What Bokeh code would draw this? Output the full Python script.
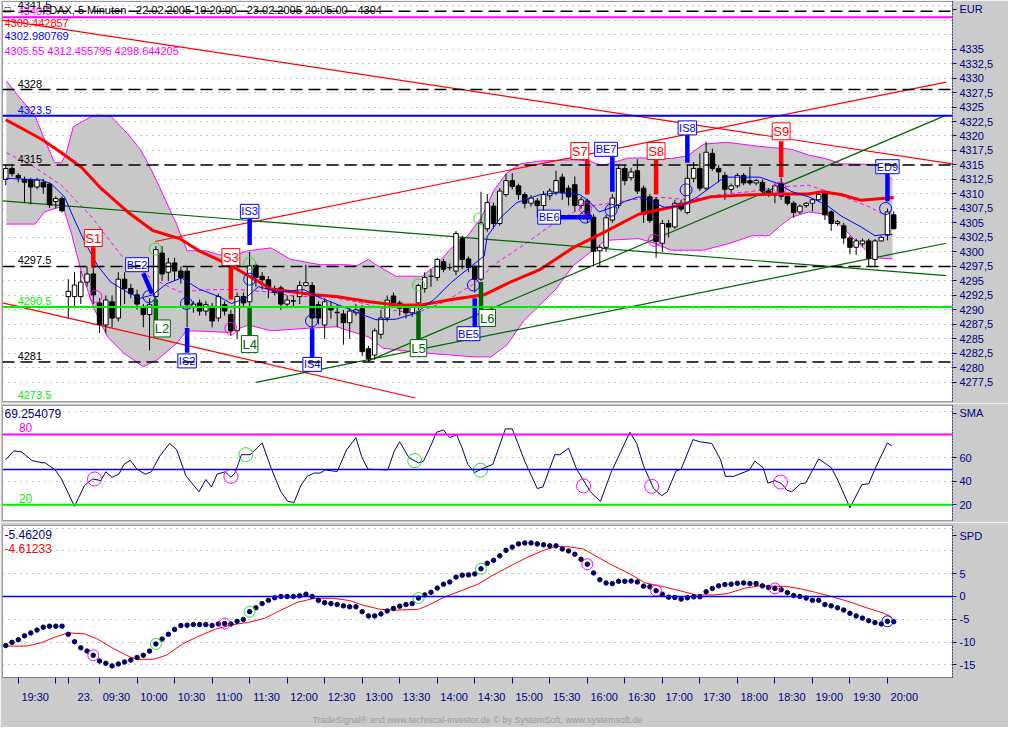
from bokeh.plotting import figure
from bokeh.models import Range1d, FixedTicker, Label, Span
from bokeh.layouts import column
from bokeh.embed import file_html
from bokeh.resources import INLINE
from bokeh.core.properties import value

FONT = "Liberation Sans"
NAVY = "#000080"
DOTS = "#000060"
GRAY_BG = "#cbcbcb"
BAND_GRAY = "#c8c8c8"
MAGENTA = "#ff00ff"
RED = "#ff0000"
BLUE = "#0000ff"
GREEN = "#00ee00"
DKGREEN = "#006400"
LTGREEN = "#2edc2e"

# ---------------- price data (5 minute bars, index 0 = 22.02. 19:20) ----------------
opens = [4312.5, 4314.4, 4313.2, 4312.5, 4312.4, 4311.2, 4312.0, 4311.7, 4308.7, 4309.2,
         4292.3, 4292.3, 4292.3, 4294.8, 4296.2, 4291.2, 4287.4, 4291.4, 4288.6, 4295.3,
         4293.7, 4292.6, 4290.3, 4289.2, 4292.3, 4299.8, 4296.5, 4298.1, 4296.7, 4296.7,
         4290.5, 4291.2, 4289.8, 4290.6, 4288.6, 4290.9, 4289.2, 4286.4, 4292.3, 4291.4,
         4297.7, 4295.8, 4295.2, 4293.7, 4293.8, 4291.0, 4291.5, 4292.3, 4294.2, 4294.2,
         4290.9, 4287.4, 4290.6, 4289.5, 4289.3, 4287.8, 4289.5, 4290.2, 4283.3, 4282.2,
         4285.8, 4288.6, 4292.4, 4291.2, 4290.4, 4289.5, 4291.2, 4293.7, 4295.8, 4295.6,
         4298.3, 4297.3, 4296.7, 4302.3, 4298.8, 4297.3, 4295.3, 4304.0, 4307.9, 4304.9,
         4309.9, 4312.3, 4311.4, 4309.9, 4308.4, 4308.8, 4308.0, 4309.7, 4310.3, 4312.9,
         4311.0, 4311.6, 4308.0, 4308.8, 4306.0, 4300.2, 4300.8, 4305.5, 4308.0, 4314.4,
         4312.8, 4314.0, 4311.0, 4309.5, 4309.0, 4301.5, 4304.9, 4304.3, 4308.4, 4306.8,
         4312.7, 4314.4, 4311.0, 4317.0, 4314.4, 4313.2, 4310.8, 4311.4, 4313.2, 4312.3,
         4311.9, 4312.0, 4310.5, 4309.8, 4311.9, 4309.6, 4308.4, 4306.9, 4308.0, 4308.4,
         4309.0, 4310.3, 4306.9, 4304.9, 4304.5, 4302.4, 4300.8, 4301.4, 4301.9, 4298.7,
         4301.9, 4302.9, 4306.4]
highs = [4315.0, 4315.0, 4313.6, 4313.0, 4312.8, 4312.8, 4312.6, 4312.0, 4309.6, 4309.6,
         4295.3, 4296.5, 4296.7, 4297.5, 4298.0, 4292.0, 4292.5, 4292.5, 4296.5, 4296.5,
         4294.5, 4293.5, 4291.0, 4292.0, 4301.0, 4301.0, 4299.0, 4299.0, 4297.5, 4297.5,
         4291.5, 4291.8, 4291.5, 4291.2, 4292.8, 4291.5, 4290.0, 4293.0, 4293.0, 4300.0,
         4298.0, 4296.5, 4295.8, 4294.2, 4294.2, 4292.5, 4292.5, 4295.0, 4297.8, 4294.8,
         4291.5, 4292.0, 4291.4, 4291.0, 4290.0, 4290.5, 4291.0, 4290.8, 4283.8, 4286.8,
         4290.0, 4292.5, 4293.0, 4291.6, 4290.8, 4291.0, 4294.5, 4296.5, 4297.0, 4299.0,
         4298.8, 4298.0, 4303.6, 4302.8, 4299.2, 4297.8, 4310.4, 4310.0, 4308.5, 4311.0,
         4313.5, 4313.6, 4311.8, 4310.3, 4309.8, 4309.3, 4310.5, 4311.0, 4314.0, 4313.5,
         4311.5, 4313.0, 4309.5, 4309.2, 4306.5, 4301.2, 4306.4, 4310.0, 4315.0, 4315.0,
         4314.5, 4316.0, 4311.5, 4310.0, 4309.5, 4305.5, 4305.5, 4309.0, 4309.0, 4315.0,
         4315.5, 4317.0, 4319.0, 4317.8, 4315.0, 4313.8, 4311.8, 4313.6, 4313.6, 4314.7,
         4312.6, 4312.5, 4311.0, 4311.8, 4312.8, 4310.0, 4308.8, 4308.2, 4308.6, 4309.3,
         4310.2, 4310.6, 4307.2, 4305.5, 4305.0, 4302.8, 4302.3, 4302.3, 4302.3, 4302.2,
         4302.8, 4307.5, 4307.0]
lows = [4311.5, 4313.0, 4312.0, 4308.5, 4308.2, 4310.8, 4310.0, 4307.6, 4307.5, 4306.8,
        4288.6, 4290.3, 4291.0, 4294.0, 4291.0, 4286.0, 4286.0, 4287.0, 4288.0, 4291.0,
        4292.0, 4290.0, 4287.0, 4283.0, 4290.0, 4295.0, 4295.0, 4295.0, 4294.5, 4287.0,
        4289.5, 4289.0, 4289.0, 4287.0, 4288.0, 4289.0, 4285.5, 4285.0, 4290.5, 4290.0,
        4294.0, 4293.5, 4292.0, 4292.5, 4290.0, 4290.3, 4290.5, 4291.0, 4294.0, 4285.8,
        4287.5, 4285.0, 4288.5, 4287.0, 4284.0, 4285.0, 4289.0, 4282.0, 4281.0, 4281.4,
        4285.0, 4288.0, 4290.5, 4289.0, 4288.5, 4288.8, 4290.0, 4293.0, 4294.0, 4295.0,
        4296.5, 4296.8, 4296.0, 4297.0, 4296.5, 4293.0, 4295.0, 4303.5, 4304.0, 4304.5,
        4309.5, 4310.8, 4309.0, 4307.5, 4307.8, 4306.0, 4306.5, 4309.0, 4309.8, 4309.0,
        4308.0, 4307.0, 4307.5, 4305.0, 4297.5, 4297.5, 4300.0, 4305.0, 4307.5, 4311.5,
        4312.3, 4310.0, 4305.0, 4305.0, 4299.0, 4300.0, 4302.5, 4304.0, 4307.0, 4306.5,
        4312.0, 4310.5, 4310.5, 4314.0, 4312.0, 4309.0, 4310.2, 4311.0, 4311.5, 4311.5,
        4311.5, 4310.0, 4309.5, 4308.4, 4309.0, 4308.0, 4305.9, 4306.5, 4307.6, 4307.0,
        4308.8, 4305.5, 4303.6, 4304.5, 4301.4, 4299.6, 4299.5, 4301.0, 4297.5, 4297.5,
        4301.8, 4302.0, 4303.9]
closes = [4314.4, 4313.5, 4312.8, 4312.0, 4311.2, 4312.4, 4311.2, 4308.1, 4309.2, 4307.1,
          4293.2, 4294.3, 4294.8, 4296.2, 4292.6, 4287.5, 4291.7, 4288.6, 4295.3, 4293.7,
          4292.8, 4291.0, 4289.2, 4290.9, 4300.4, 4296.2, 4298.1, 4296.7, 4295.5, 4290.9,
          4291.0, 4289.8, 4290.9, 4288.1, 4292.3, 4289.8, 4286.4, 4292.3, 4291.2, 4297.6,
          4295.6, 4295.2, 4293.7, 4293.0, 4291.0, 4291.7, 4291.6, 4294.2, 4294.7, 4288.6,
          4288.6, 4291.4, 4290.0, 4289.6, 4287.8, 4289.8, 4290.0, 4282.8, 4281.6, 4286.4,
          4288.6, 4291.7, 4291.2, 4290.3, 4289.5, 4290.6, 4294.2, 4295.6, 4295.8, 4298.7,
          4297.0, 4297.3, 4303.2, 4298.7, 4297.3, 4295.3, 4305.0, 4308.5, 4304.9, 4310.5,
          4312.3, 4311.3, 4309.9, 4308.4, 4309.3, 4308.0, 4309.9, 4310.5, 4312.3, 4310.2,
          4309.5, 4308.0, 4309.0, 4306.3, 4300.1, 4300.8, 4305.9, 4309.3, 4314.4, 4312.3,
          4313.8, 4310.5, 4306.5, 4305.4, 4301.8, 4304.9, 4304.3, 4308.4, 4307.4, 4312.7,
          4314.4, 4311.0, 4317.2, 4314.4, 4313.8, 4310.8, 4311.4, 4313.2, 4311.9, 4311.9,
          4312.3, 4310.5, 4309.8, 4311.4, 4309.6, 4308.4, 4306.8, 4307.9, 4308.4, 4309.0,
          4309.9, 4306.4, 4304.9, 4305.2, 4302.4, 4300.8, 4301.9, 4301.9, 4298.9, 4301.9,
          4302.5, 4306.9, 4304.0]

# x-axis: tick bars and labels
tick_bars = [2, 8, 10, 15, 21, 27, 33, 39, 45, 51, 57, 63, 69, 75, 81, 87, 93, 99, 105,
             111, 117, 123, 129, 135, 141]
tick_labels = ["19:30", "", "23.", "09:30", "10:00", "10:30", "11:00", "11:30", "12:00",
               "12:30", "13:00", "13:30", "14:00", "14:30", "15:00", "15:30", "16:00",
               "16:30", "17:00", "17:30", "18:00", "18:30", "19:00", "19:30", "20:00"]

# right price axis (last entry is the panel header)
price_ticks = [4277.5, 4280.0, 4282.5, 4285.0, 4287.5, 4290.0, 4292.5, 4295.0, 4297.5,
               4300.0, 4302.5, 4305.0, 4307.5, 4310.0, 4312.5, 4315.0, 4317.5, 4320.0,
               4322.5, 4325.0, 4327.5, 4330.0, 4332.5, 4335.0, 4341.9]
price_tick_labels = ["4277,5", "4280", "4282,5", "4285", "4287,5", "4290", "4292,5", "4295",
                     "4297,5", "4300", "4302,5", "4305", "4307,5", "4310", "4312,5", "4315",
                     "4317,5", "4320", "4322,5", "4325", "4327,5", "4330", "4332,5", "4335",
                     "     EUR"]
price_grid = [4277.5, 4280.0, 4282.5, 4285.0, 4287.5, 4290.0, 4292.5, 4295.0, 4297.5,
              4300.0, 4302.5, 4305.0, 4307.5, 4310.0, 4312.5, 4315.0, 4317.5, 4320.0,
              4322.5, 4325.0, 4327.5, 4330.0, 4332.5, 4335.0, 4337.5, 4340.0, 4342.5]

# moving averages (read at bar positions)
ma_red_x = [0, 2.6, 5.8, 8.9, 12.1, 15.2, 19.5, 23.5, 27.8, 30.9, 36.1, 38.8, 42.4, 49.3,
            52.9, 58.1, 62.8, 66.6, 71.3, 76.5, 80.1, 85.5, 90.7, 95.9, 101.2, 106.4, 112.7,
            118.0, 123.2, 128.4, 130.5, 133.6, 136.8, 142.0]
ma_red_y = [4322.8, 4321.3, 4319.4, 4317.1, 4314.6, 4311.0, 4306.9, 4303.7, 4302.3, 4300.2,
            4297.6, 4295.9, 4293.6, 4292.6, 4292.3, 4291.4, 4290.8, 4290.9, 4291.8, 4292.6,
            4294.5, 4297.0, 4300.7, 4303.5, 4306.5, 4307.7, 4309.5, 4309.8, 4310.0, 4310.0,
            4310.4, 4309.9, 4308.9, 4309.4]
ma_blue_x = [0, 5.8, 7.3, 9.4, 10.8, 12.5, 14.7, 16.8, 19.4, 21.5, 23.5, 25.7, 28.1, 30.9,
             34.1, 36.1, 38.3, 40.4, 43.5, 47.7, 49.8, 52.9, 56.1, 59.2, 62.4, 65.5, 68.7,
             71.3, 73.8, 76.5, 77.0, 79.2, 81.7, 85.5, 88.6, 91.8, 93.3, 94.9, 97.0, 99.0,
             101.2, 103.3, 105.3, 108.0, 110.6, 114.3, 115.4, 120.6, 123.2, 125.7, 128.4,
             131.1, 133.6, 136.8, 139.0, 140.5, 141.8]
ma_blue_y = [4312.7, 4312.4, 4311.7, 4309.5, 4306.0, 4302.0, 4297.6, 4294.8, 4293.1, 4292.0,
             4292.6, 4294.5, 4295.5, 4293.6, 4292.3, 4291.1, 4292.0, 4294.0, 4293.1, 4293.5,
             4292.3, 4291.0, 4289.6, 4288.3, 4288.4, 4289.4, 4292.0, 4294.8, 4297.0, 4299.3,
             4302.7, 4306.0, 4308.5, 4309.9, 4310.2, 4309.9, 4308.7, 4306.9, 4307.7, 4308.7,
             4309.5, 4308.7, 4307.7, 4307.9, 4309.5, 4312.4, 4312.9, 4312.9, 4311.9, 4310.4,
             4309.5, 4308.2, 4306.2, 4304.3, 4302.8, 4303.0, 4303.0]

# bands
band_up_x = [0.1, 2.6, 4.7, 6.2, 7.8, 8.9, 9.7, 10.8, 12.1, 13.6, 14.7, 16.8, 19.5, 21.5,
             22.8, 24.2, 27.3, 29.0, 32.0, 34.1, 36.1, 38.8, 42.4, 45.6, 50.3, 54.5, 56.1,
             58.0, 59.2, 62.4, 66.6, 68.7, 71.3, 73.8, 76.1, 78.1, 80.1, 82.3, 85.5, 90.7,
             93.3, 95.4, 97.0, 99.6, 103.7, 106.4, 109.1, 111.6, 115.4, 120.6, 125.7, 128.4,
             131.1, 133.6, 139.0, 141.0, 141.8]
band_up_y = [4329.5, 4326.1, 4323.4, 4319.4, 4315.4, 4315.4, 4317.1, 4321.6, 4322.4, 4323.3,
             4323.6, 4323.4, 4320.4, 4317.7, 4315.2, 4312.1, 4304.8, 4300.2, 4300.2, 4299.5,
             4299.3, 4300.2, 4300.7, 4298.7, 4297.8, 4297.8, 4297.6, 4298.7, 4297.8, 4295.8,
             4295.8, 4297.6, 4300.7, 4302.7, 4306.0, 4310.7, 4313.6, 4315.2, 4315.7, 4315.9,
             4315.7, 4314.9, 4315.4, 4316.2, 4316.2, 4316.1, 4316.6, 4318.6, 4318.9, 4318.2,
             4317.7, 4316.7, 4316.1, 4315.2, 4315.1, 4313.2, 4312.5]
band_lo_x = [0.1, 4.7, 6.2, 8.4, 9.4, 10.5, 12.1, 14.1, 16.3, 18.8, 22.0, 24.2, 27.3, 28.9,
             32.0, 35.6, 38.8, 42.4, 47.7, 52.9, 58.1, 60.3, 62.4, 66.6, 71.3, 75.0, 77.6,
             80.1, 82.8, 88.0, 90.7, 93.3, 95.9, 101.2, 103.7, 106.4, 111.6, 115.8, 119.4,
             122.1, 124.2, 125.7, 128.4, 131.1, 133.6, 136.3, 139.0, 141.8]
band_lo_y = [4304.8, 4304.8, 4306.9, 4307.7, 4307.0, 4303.2, 4296.5, 4290.3, 4285.3, 4282.6,
             4280.2, 4281.4, 4284.2, 4286.4, 4286.3, 4286.1, 4287.4, 4286.4, 4286.8, 4287.1,
             4285.3, 4283.4, 4283.1, 4282.6, 4282.2, 4281.9, 4281.9, 4283.9, 4288.1, 4293.6,
             4297.6, 4299.8, 4302.0, 4302.3, 4301.5, 4300.3, 4300.3, 4301.5, 4302.8, 4302.8,
             4304.8, 4306.0, 4306.9, 4306.5, 4304.5, 4301.5, 4299.0, 4298.8]
band_mid_x = [0.1, 4.2, 8.9, 13.6, 18.4, 23.1, 27.8, 32.5, 37.2, 41.9, 46.6, 51.4, 56.1,
              60.8, 65.5, 70.2, 74.9, 78.1, 82.8, 87.5, 92.2, 95.4, 100.1, 104.8, 109.5,
              114.3, 119.0, 123.7, 128.4, 133.1, 137.8, 141.8]
band_mid_y = [4317.1, 4314.9, 4311.5, 4306.2, 4299.5, 4295.6, 4293.1, 4293.5, 4293.5, 4293.1,
              4292.3, 4292.3, 4291.4, 4290.1, 4289.4, 4291.4, 4294.5, 4297.8, 4301.2, 4304.8,
              4307.7, 4308.2, 4309.0, 4309.4, 4309.0, 4309.9, 4310.4, 4311.2, 4311.5, 4309.9,
              4307.9, 4305.7]

# trend lines (bar, price) start / end
trend_x0 = [-0.52, -0.52, 23.9, -0.52, 58.0, 40.0]
trend_y0 = [4340.0, 4291.2, 4301.8, 4308.8, 4281.2, 4277.5]
trend_x1 = [151.4, 65.5, 150.4, 150.4, 150.4, 150.4]
trend_y1 = [4315.2, 4274.8, 4329.3, 4295.9, 4323.6, 4301.5]
trend_col = [RED, RED, RED, DKGREEN, DKGREEN, DKGREEN]

# horizontal levels
levels = [4341.5, 4340.5, 4328.0, 4323.5, 4315.0, 4297.5, 4290.5, 4281.0, 4273.5]
level_text = ["4341.5", "4340.5", "4328", "4323.5", "4315", "4297.5", "4290.5", "4281", "4273.5"]
level_color = ["black", MAGENTA, "black", BLUE, "black", "black", GREEN, "black", GREEN]
level_dash = ["12 6", "solid", "12 6", "solid", "12 6", "12 6", "solid", "12 6", "solid"]
level_width = [1.5, 2, 1.5, 2, 1.5, 1.5, 2, 1.5, 2]

# trading signals
sig_name = ["S1", "BE2", "L2", "IS2", "S3", "L4", "IS3", "IS4", "L5", "BE5", "L6", "BE6",
            "S7", "BE7", "S8", "IS8", "S9", "ED9"]
sig_x0 = [14, 22, 24, 29, 36, 39, 39, 49, 66, 75, 76, 88.6, 93, 97, 104, 109, 124, 141]
sig_y0 = [4300.8, 4296.3, 4291.8, 4286.9, 4297.6, 4290.6, 4305.7, 4286.8, 4289.8, 4292.0,
          4294.8, 4306.0, 4315.9, 4316.6, 4315.9, 4320.3, 4319.1, 4314.1]
sig_x1 = [14, 23.4, 24, 29, 36, 39, 39, 49, 66, 75, 76, 93.7, 93, 97, 104, 109, 124, 141]
sig_y1 = [4297.3, 4292.8, 4288.1, 4282.6, 4291.8, 4285.3, 4301.2, 4281.7, 4284.4, 4286.9,
          4290.1, 4306.0, 4309.9, 4310.4, 4309.9, 4315.4, 4312.9, 4308.7]
sig_lx = [14, 21, 25, 29, 36, 39, 39, 49, 66, 74, 77, 86.9, 91.8, 96, 104, 109, 124, 141]
sig_ly = [4302.4, 4297.8, 4286.8, 4281.2, 4299.1, 4284.1, 4307.0, 4280.6, 4283.4, 4285.9,
          4288.6, 4306.0, 4317.4, 4317.7, 4317.4, 4321.4, 4320.8, 4314.7]

# signal circles on the price panel
circ_green_x = [23.9, 39.0, 66.0, 75.8]
circ_green_y = [4300.5, 4298.0, 4294.3, 4305.7]
circ_mag_x = [14.4, 36.0, 92.7, 103.7, 123.8]
circ_mag_y = [4292.3, 4286.8, 4307.5, 4302.0, 4311.0]
circ_blue_x = [22.9, 28.9, 39.0, 48.9, 74.8, 92.7, 96.8, 108.8, 140.7]
circ_blue_y = [4292.3, 4291.1, 4295.3, 4288.1, 4294.3, 4306.0, 4307.2, 4310.7, 4307.5]

# SMA oscillator
sma_x = [0, 1.3, 2.6, 4.2, 5.8, 6.3, 7.9, 8.9, 11.0, 12.6, 13.9, 15.2, 16.0, 17.0, 18.1,
         18.9, 19.9, 21.0, 22.3, 23.3, 24.6, 26.2, 27.3, 28.8, 30.9, 32.0, 32.9, 33.8, 35.1,
         36.0, 36.7, 37.7, 39.1, 41.0, 42.5, 44.0, 45.1, 46.1, 47.2, 48.2, 49.3, 50.3, 51.1,
         53.0, 54.5, 56.0, 56.9, 57.9, 61.1, 62.1, 63.0, 64.5, 66.0, 66.8, 67.9, 68.9, 70.0,
         71.0, 72.1, 72.9, 73.9, 75.0, 76.0, 77.9, 79.9, 81.0, 83.1, 85.0, 85.9, 87.8, 88.6,
         90.0, 91.3, 93.5, 95.1, 96.8, 99.8, 100.9, 102.0, 103.6, 104.9, 105.8, 107.2, 108.0,
         109.9, 111.0, 112.9, 114.3, 115.1, 116.4, 118.9, 119.8, 121.1, 121.9, 123.0, 124.1,
         124.9, 125.7, 127.1, 127.9, 130.0, 132.0, 133.1, 135.0, 136.9, 138.0, 139.1, 141.0,
         141.7]
sma_y = [58.5, 66.0, 64.9, 57.7, 55.8, 55.8, 49.7, 42.0, 18.6, 36.5, 42.0, 40.6, 48.1, 43.4,
         46.1, 54.4, 58.0, 50.3, 46.1, 48.1, 61.3, 72.3, 67.3, 44.8, 31.0, 41.5, 35.1, 46.1,
         48.1, 43.4, 47.5, 62.7, 62.7, 72.8, 50.3, 31.0, 22.8, 21.9, 36.5, 44.2, 47.0, 47.0,
         49.7, 48.3, 66.8, 77.2, 61.3, 50.3, 49.7, 65.4, 73.7, 59.9, 55.8, 57.2, 69.5, 81.9,
         83.8, 77.2, 79.7, 69.5, 54.4, 47.5, 50.3, 54.4, 84.7, 84.7, 55.8, 33.8, 35.1, 62.7,
         62.7, 68.2, 50.3, 31.0, 22.8, 47.5, 81.9, 72.3, 53.0, 33.8, 27.7, 31.0, 48.9, 50.3,
         75.6, 73.7, 72.3, 58.5, 44.2, 44.2, 49.4, 57.2, 51.7, 38.4, 40.6, 37.9, 32.4, 31.0,
         37.9, 38.4, 59.1, 51.7, 40.6, 17.3, 37.1, 37.9, 51.7, 72.8, 70.1]
sma_circ_mag_x = [14.2, 36.0, 92.4, 103.3, 123.9]
sma_circ_mag_y = [42.0, 44.2, 36.0, 35.7, 39.3]
sma_circ_green_x = [38.4, 65.4, 75.9]
sma_circ_green_y = [62.7, 57.7, 49.4]
sma_ticks = [20, 40, 60, 98]
sma_tick_labels = ["20", "40", "60", "     SMA"]
sma_grid = [20, 40, 60, 80, 100]

# SPD: dotted series (one value per bar) and red signal line
spd_dots = [-10.78, -10.07, -9.50, -8.65, -8.01, -7.38, -6.74, -6.52, -6.52, -6.52,
            -8.30, -9.93, -11.28, -11.99, -12.91, -14.18, -14.68, -15.25, -14.82, -14.40,
            -13.97, -13.40, -12.91, -11.99, -10.43, -9.36, -8.30, -7.23, -6.38, -6.31,
            -6.17, -6.17, -6.17, -6.38, -6.03, -5.96, -6.03, -5.46, -5.04, -3.33,
            -2.48, -1.56, -0.85, -0.28, 0.0, 0.0, 0.0, 0.14, 0.50, 0.0,
            -0.85, -1.35, -1.56, -1.77, -2.06, -2.27, -2.27, -3.33, -4.26, -4.26,
            -3.83, -3.19, -2.62, -2.13, -1.77, -1.56, -0.35, 0.35, 0.92, 1.84,
            2.70, 3.19, 4.26, 4.68, 4.75, 4.96, 6.10, 7.30, 7.94, 8.94,
            10.14, 10.85, 11.56, 11.77, 11.77, 11.56, 11.35, 11.13, 11.13, 10.43,
            10.0, 9.29, 8.16, 7.09, 5.18, 3.69, 2.98, 2.84, 3.33, 3.33,
            3.40, 3.19, 2.27, 2.13, 1.28, 0.50, -0.14, -0.21, -0.57, -0.28,
            -0.07, -0.07, 1.06, 1.77, 2.34, 2.62, 2.70, 2.91, 2.98, 2.84,
            2.84, 2.34, 1.99, 1.77, 1.49, 0.85, 0.21, 0.0, -0.35, -0.85,
            -0.85, -1.77, -2.06, -2.48, -2.98, -3.69, -4.26, -4.75, -5.32, -5.74,
            -6.03, -5.46, -5.53]
spd_red_x = [0, 3.4, 5.8, 7.9, 10.0, 12.6, 14.7, 17.3, 19.9, 21.0, 23.6, 25.7, 28.3, 30.9,
             33.5, 36.2, 38.8, 41.4, 44.0, 46.6, 49.3, 52.4, 55.0, 57.1, 59.8, 62.4, 66.0,
             67.6, 70.2, 72.9, 75.5, 77.7, 80.4, 83.1, 85.9, 88.1, 90.2, 92.4, 94.6, 96.8,
             99.5, 102.2, 105.0, 107.7, 110.4, 113.2, 115.3, 118.1, 120.3, 121.9, 124.9, 127.4,
             129.5, 132.3, 135.0, 137.7, 140.5, 141.7]
spd_red_y = [-10.9, -10.9, -10.1, -8.9, -8.0, -8.2, -9.4, -11.5, -13.3, -13.8, -13.8, -12.9,
             -10.4, -8.7, -7.2, -6.2, -5.7, -4.8, -3.0, -1.3, -0.4, -0.4, -0.9, -1.9, -2.8,
             -3.0, -2.8, -1.9, -0.1, 1.3, 2.7, 4.5, 6.5, 8.4, 10.1, 11.0, 10.9, 10.4, 8.7,
             7.0, 5.2, 3.0, 2.2, 1.3, 0.35, 0.35, 0.6, 1.8, 2.3, 2.3, 2.2, 1.6, 0.9, -0.1,
             -1.2, -2.5, -3.7, -4.6]
spd_circ_mag = [14, 35, 93, 104, 123]
spd_circ_green = [24, 39, 66, 76]
spd_circ_blue = [141]
spd_ticks = [-15, -10, -5, 0, 5, 13.4]
spd_tick_labels = ["-15", "-10", "-5", "0", "5", "     SPD"]
spd_grid = [-15, -10, -5, 0, 5, 10, 15]

N = len(closes)
bars = list(range(N))

XR = Range1d(-0.52, 151.4)
FW = 950


def make_fig(fh, yr, top, bottom, xaxis):
    p = figure(frame_width=FW, frame_height=fh, x_range=XR, y_range=Range1d(*yr),
               output_backend="svg", toolbar_location=None, y_axis_location="right",
               x_axis_location=("below" if xaxis else None),
               min_border_left=2, min_border_right=56, min_border_top=top,
               min_border_bottom=bottom, background_fill_color="white",
               border_fill_color=GRAY_BG, outline_line_color="#9a9a9a")
    p.xgrid.visible = False
    ya = p.yaxis[0]
    ya.axis_line_color = NAVY
    ya.axis_line_dash = "1 2"
    ya.major_tick_line_color = NAVY
    ya.major_tick_out = 4
    ya.major_tick_in = 0
    ya.minor_tick_line_color = None
    ya.major_label_text_color = NAVY
    ya.major_label_text_font = FONT
    ya.major_label_text_font_size = "11px"
    ya.major_label_standoff = 3
    p.ygrid.grid_line_color = "#8c8c8c"
    p.ygrid.grid_line_dash = "1 5"
    return p


def add_label(p, x, y, text, color, size="11px", align="left", baseline="top"):
    p.add_layout(Label(x=x, y=y, x_units="screen", y_units="screen", text=text,
                       text_color=color, text_font=FONT, text_font_size=size,
                       text_align=align, text_baseline=baseline))


# ---------------- main price panel ----------------
H1 = 400
p1 = make_fig(H1, (4274.2, 4343.2), 1, 2, False)
p1.yaxis[0].ticker = FixedTicker(ticks=price_ticks)
p1.yaxis[0].major_label_overrides = dict(zip(price_ticks, price_tick_labels))
p1.ygrid.ticker = FixedTicker(ticks=price_grid)

p1.patch(band_up_x + band_lo_x[::-1], band_up_y + band_lo_y[::-1],
         fill_color=BAND_GRAY, line_color=None)
p1.line(band_up_x, band_up_y, color=MAGENTA, line_width=1)
p1.line(band_lo_x, band_lo_y, color=MAGENTA, line_width=1)
p1.line(band_mid_x, band_mid_y, color=MAGENTA, line_width=1, line_dash="4 3")

p1.segment(x0=trend_x0, y0=trend_y0, x1=trend_x1, y1=trend_y1, line_color=trend_col,
           line_width=1.2)

for lv, col, dash, w in zip(levels, level_color, level_dash, level_width):
    p1.add_layout(Span(location=lv, dimension="width", line_color=col, line_dash=dash,
                       line_width=w))
level_off = [-2] * (len(levels) - 1) + [-7]
p1.text(x=[1.9] * len(levels), y=levels, text=level_text, text_color=level_color,
        y_offset=level_off, text_baseline="bottom", text_align="left",
        text_font=value(FONT), text_font_size="11px")

# candles
p1.segment(x0=bars, y0=lows, x1=bars, y1=highs, line_color="black", line_width=1)
up = [i for i in bars if closes[i] >= opens[i]]
dn = [i for i in bars if closes[i] < opens[i]]
p1.vbar(x=up, width=0.72, top=[closes[i] for i in up], bottom=[opens[i] for i in up],
        fill_color="white", line_color="black", line_width=1)
p1.vbar(x=dn, width=0.72, top=[opens[i] for i in dn], bottom=[closes[i] for i in dn],
        fill_color="black", line_color="black", line_width=1)

p1.line(ma_red_x, ma_red_y, color=RED, line_width=3)
p1.line(ma_blue_x, ma_blue_y, color=BLUE, line_width=1)


# signals
def sig_color(name):
    if name.startswith("S"):
        return RED
    if name.startswith("L"):
        return DKGREEN
    return BLUE


sig_cols = [sig_color(n) for n in sig_name]
p1.segment(x0=sig_x0, y0=sig_y0, x1=sig_x1, y1=sig_y1, line_color=sig_cols, line_width=4.5)

p1.scatter(circ_green_x, circ_green_y, marker="circle", size=12, fill_color=None,
           line_color=LTGREEN, line_width=1)
p1.scatter(circ_mag_x, circ_mag_y, marker="circle", size=12, fill_color=None,
           line_color=MAGENTA, line_width=1)
p1.scatter(circ_blue_x, circ_blue_y, marker="circle", size=12, fill_color=None,
           line_color=BLUE, line_width=1)

big = [i for i, n in enumerate(sig_name) if sig_cols[i] != BLUE]
small = [i for i, n in enumerate(sig_name) if sig_cols[i] == BLUE]
p1.text(x=[sig_lx[i] for i in big], y=[sig_ly[i] for i in big],
        text=[sig_name[i] for i in big], text_color=[sig_cols[i] for i in big],
        border_line_color=[sig_cols[i] for i in big], background_fill_color="white",
        padding=1, text_align="center", text_baseline="middle",
        text_font=value(FONT), text_font_size="13px")
p1.text(x=[sig_lx[i] for i in small], y=[sig_ly[i] for i in small],
        text=[sig_name[i] for i in small], text_color=BLUE,
        border_line_color=BLUE, background_fill_color="white",
        padding=1, text_align="center", text_baseline="middle",
        text_font=value(FONT), text_font_size="11px")

add_label(p1, 2, H1 - 2, "\u25a1", "black", "10px")
add_label(p1, 40, H1 - 2, "FDAX, 5 Minuten - 22.02.2005 19:20:00 - 23.02.2005 20:05:00 - 4304",
          "black", "11px")
add_label(p1, 2, H1 - 17, "4309.442857", RED)
add_label(p1, 2, H1 - 30, "4302.980769", BLUE)
add_label(p1, 2, H1 - 43, "4305.55 4312.455795 4298.644205", MAGENTA)

# ---------------- SMA panel ----------------
H2 = 115
p2 = make_fig(H2, (6.5, 104.7), 2, 2, False)
p2.yaxis[0].ticker = FixedTicker(ticks=sma_ticks)
p2.yaxis[0].major_label_overrides = dict(zip(sma_ticks, sma_tick_labels))
p2.ygrid.ticker = FixedTicker(ticks=sma_grid)
p2.add_layout(Span(location=80, dimension="width", line_color=MAGENTA, line_width=2))
p2.add_layout(Span(location=50, dimension="width", line_color=BLUE, line_width=1.5))
p2.add_layout(Span(location=20, dimension="width", line_color=GREEN, line_width=2))
p2.line(sma_x, sma_y, color=DOTS, line_width=1)
p2.scatter(sma_circ_mag_x, sma_circ_mag_y, marker="circle", size=14, fill_color=None,
           line_color=MAGENTA, line_width=1)
p2.scatter(sma_circ_green_x, sma_circ_green_y, marker="circle", size=14, fill_color=None,
           line_color=LTGREEN, line_width=1)
p2.text(x=[2.1, 2.1], y=[80, 20], text=["80", "20"], text_color=[MAGENTA, GREEN],
        y_offset=-2, text_baseline="bottom", text_font=value(FONT), text_font_size="12px")
add_label(p2, 2, H2 - 3, "69.254079", NAVY, "12px")

# ---------------- SPD panel ----------------
H3 = 152
p3 = make_fig(H3, (-17.8, 15.6), 3, 44, True)
p3.yaxis[0].ticker = FixedTicker(ticks=spd_ticks)
p3.yaxis[0].major_label_overrides = dict(zip(spd_ticks, spd_tick_labels))
p3.ygrid.ticker = FixedTicker(ticks=spd_grid)
p3.add_layout(Span(location=0, dimension="width", line_color=BLUE, line_width=1.5))
p3.line(spd_red_x, spd_red_y, color=RED, line_width=1)
p3.scatter(bars, spd_dots, marker="circle", size=4.5, fill_color=DOTS, line_color=DOTS)
p3.scatter(spd_circ_mag, [spd_dots[i] for i in spd_circ_mag], marker="circle", size=11,
           fill_color=None, line_color=MAGENTA, line_width=1)
p3.scatter(spd_circ_green, [spd_dots[i] for i in spd_circ_green], marker="circle", size=11,
           fill_color=None, line_color=LTGREEN, line_width=1)
p3.scatter(spd_circ_blue, [spd_dots[i] for i in spd_circ_blue], marker="circle", size=11,
           fill_color=None, line_color=BLUE, line_width=1)
add_label(p3, 2, H3 - 4, "-5.46209", NAVY, "12px")
add_label(p3, 2, H3 - 18, "-4.61233", RED, "12px")

label_pos = [b + 2.7 for b, t in zip(tick_bars, tick_labels) if t]
label_txt = [t for t in tick_labels if t]
xa = p3.xaxis[0]
xa.ticker = FixedTicker(ticks=label_pos, minor_ticks=tick_bars)
xa.major_label_overrides = dict(zip(label_pos, label_txt))
xa.major_tick_line_color = None
xa.major_tick_out = 0
xa.major_tick_in = 0
xa.minor_tick_line_color = NAVY
xa.minor_tick_out = 6
xa.minor_tick_in = 0
xa.axis_line_color = "#808080"
xa.major_label_text_color = NAVY
xa.major_label_text_font = FONT
xa.major_label_text_font_size = "11px"
xa.major_label_standoff = 7
xa.axis_label = "TradeSignal\u00ae and www.technical-investor.de \u00a9 by SystemSoft, www.systemsoft.de"
xa.axis_label_text_font = FONT
xa.axis_label_text_font_size = "9px"
xa.axis_label_text_font_style = "normal"
xa.axis_label_text_color = "#9a9a9a"
xa.axis_label_standoff = 9

layout = column(p1, p2, p3, spacing=0)
open("out.html", "w").write(file_html(layout, INLINE))
